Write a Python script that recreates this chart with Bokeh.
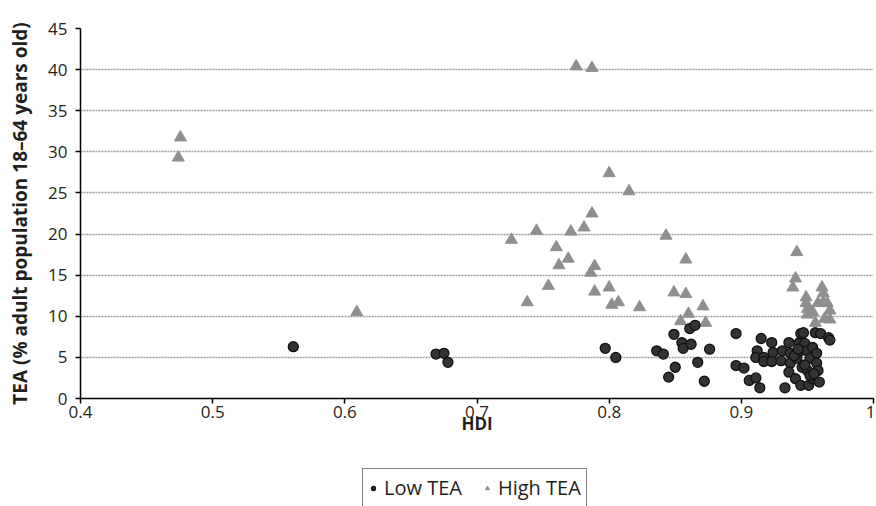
from bokeh.plotting import figure
from bokeh.layouts import column
from bokeh.models import Range1d, FixedTicker, CustomJSTickFormatter, Legend, LegendItem, Label
from bokeh.embed import file_html
from bokeh.resources import INLINE

# High TEA group (HDI, TEA %)
high_hdi = [0.4756, 0.474, 0.609, 0.726, 0.745, 0.738, 0.754, 0.760, 0.762, 0.769,
            0.771, 0.775, 0.781, 0.787, 0.787, 0.786, 0.789, 0.789, 0.800, 0.800,
            0.802, 0.807, 0.815, 0.823, 0.843, 0.849, 0.858, 0.858, 0.860, 0.854,
            0.871, 0.873, 0.942, 0.941, 0.939, 0.949, 0.949, 0.950, 0.950, 0.961,
            0.962, 0.958, 0.962, 0.965, 0.967, 0.967, 0.954, 0.956, 0.963]
high_tea = [31.75, 29.3, 10.5, 19.3, 20.4, 11.7, 13.7, 18.4, 16.2, 17.0,
            20.3, 40.4, 20.8, 22.5, 40.2, 15.3, 16.1, 13.0, 27.4, 13.5,
            11.4, 11.7, 25.2, 11.1, 19.8, 12.9, 16.9, 12.7, 10.3, 9.4,
            11.2, 9.2, 17.8, 14.6, 13.5, 12.3, 11.6, 10.9, 10.2, 13.5,
            12.8, 11.6, 11.7, 11.6, 10.7, 9.6, 10.5, 9.2, 9.7]

# Low TEA group (HDI, TEA %)
low_hdi = [0.561, 0.669, 0.675, 0.678, 0.797, 0.805, 0.836, 0.841, 0.849, 0.845,
           0.850, 0.855, 0.856, 0.861, 0.865, 0.862, 0.867, 0.872, 0.876, 0.896,
           0.896, 0.902, 0.906, 0.911, 0.914, 0.915, 0.912, 0.911, 0.917, 0.917,
           0.923, 0.924, 0.923, 0.931, 0.930, 0.933, 0.936, 0.937, 0.937, 0.936,
           0.941, 0.942, 0.944, 0.945, 0.947, 0.948, 0.945, 0.950, 0.946, 0.950,
           0.945, 0.951, 0.952, 0.954, 0.956, 0.957, 0.957, 0.954, 0.958, 0.960,
           0.966, 0.967, 0.952, 0.940, 0.948, 0.955, 0.943, 0.959]
low_tea = [6.3, 5.4, 5.5, 4.4, 6.1, 5.0, 5.8, 5.4, 7.8, 2.6,
           3.8, 6.8, 6.1, 8.5, 8.9, 6.6, 4.4, 2.1, 6.0, 7.9,
           4.0, 3.7, 2.2, 2.5, 1.3, 7.3, 5.8, 5.0, 5.0, 4.5,
           6.8, 5.6, 4.5, 5.8, 4.6, 1.3, 6.8, 5.5, 4.3, 3.2,
           2.4, 4.9, 6.8, 7.9, 8.0, 6.7, 5.8, 5.8, 3.8, 3.4,
           1.6, 1.6, 4.9, 6.2, 8.0, 5.5, 4.3, 2.4, 3.4, 7.9,
           7.4, 7.1, 2.8, 5.2, 4.1, 3.0, 6.0, 2.0]

x_ticks = [0.4, 0.5, 0.6, 0.7, 0.8, 0.9, 1.0]
y_ticks = [0, 5, 10, 15, 20, 25, 30, 35, 40, 45]

FONT = "Open Sans"
TXT = "#231f20"
HIGH_COLOR = "#8f8f8f"
LOW_FILL = "#333333"
LOW_LINE = "#111111"
TICK_SIZE = "17px"

p = figure(frame_width=793, frame_height=370, output_backend="svg", toolbar_location=None,
           x_range=Range1d(0.4, 1.0), y_range=Range1d(0, 45),
           min_border_left=80, min_border_right=3, min_border_top=28, min_border_bottom=10)
p.outline_line_color = None
p.background_fill_color = "white"
p.border_fill_color = "white"

p.xgrid.grid_line_color = None
p.ygrid.ticker = FixedTicker(ticks=y_ticks)
p.ygrid.grid_line_color = "#9a9a9a"
p.ygrid.grid_line_width = 1.5
p.ygrid.grid_line_dash = "2 1"

p.xaxis.ticker = FixedTicker(ticks=x_ticks)
p.xaxis.formatter = CustomJSTickFormatter(
    code="var v = Math.round(tick*10)/10; return v >= 1 ? '' : v.toString();")
p.yaxis.ticker = FixedTicker(ticks=y_ticks)
for ax in (p.xaxis, p.yaxis):
    ax.axis_line_color = "black"
    ax.axis_line_width = 1.5
    ax.major_tick_line_color = "black"
    ax.major_tick_line_width = 1.5
    ax.major_tick_out = 5
    ax.major_tick_in = 0
    ax.minor_tick_line_color = None
    ax.major_label_text_font = FONT
    ax.major_label_text_font_size = TICK_SIZE
    ax.major_label_text_color = TXT
    ax.axis_label_text_font = FONT
    ax.axis_label_text_font_size = "17px"
    ax.axis_label_text_font_style = "bold"
    ax.axis_label_text_color = TXT
p.yaxis.axis_label_text_font_size = "19px"
p.xaxis.axis_label = "HDI"
p.yaxis.axis_label = "TEA (% adult population 18\u201364 years old)"
p.xaxis.major_label_standoff = 2
p.xaxis.axis_label_standoff = -9
p.yaxis.major_label_standoff = 8
p.yaxis.axis_label_standoff = 12

# last x tick label drawn separately so the frame keeps its full width
p.add_layout(Label(x=x_ticks[-1], y=0, x_units="data", y_units="data", text="1",
                   text_align="right", text_baseline="top", x_offset=2, y_offset=-7,
                   text_font=FONT, text_font_size=TICK_SIZE, text_color=TXT), "below")

r_high = p.scatter(high_hdi, high_tea, marker="triangle", size=12,
                   fill_color=HIGH_COLOR, line_color=HIGH_COLOR)
r_low = p.scatter(low_hdi, low_tea, marker="circle", size=10,
                  fill_color=LOW_FILL, line_color=LOW_LINE, line_width=1.3)

# Legend strip below the chart (its glyphs fall outside its y-range)
q = figure(width=876, height=61, output_backend="svg", toolbar_location=None,
           x_axis_location=None, y_axis_location=None,
           x_range=Range1d(0, 1), y_range=Range1d(100, 101),
           min_border_left=0, min_border_right=0, min_border_top=0, min_border_bottom=0)
q.grid.visible = False
q.outline_line_color = None
lg_low = q.scatter(low_hdi, low_tea, marker="circle", size=10,
                   fill_color=LOW_FILL, line_color=LOW_LINE, line_width=1.3)
lg_high = q.scatter(high_hdi, high_tea, marker="triangle", size=13,
                    fill_color=HIGH_COLOR, line_color=HIGH_COLOR)

legend = Legend(items=[LegendItem(label="Low TEA", renderers=[lg_low]),
                       LegendItem(label="High TEA", renderers=[lg_high])],
                orientation="horizontal", location=(282, 3))
legend.label_text_font = FONT
legend.label_text_font_size = "20px"
legend.label_text_color = TXT
legend.border_line_color = "black"
legend.border_line_width = 1
legend.glyph_width = 10
legend.glyph_height = 20
legend.label_standoff = 6
legend.spacing = 20
legend.padding = 5
legend.margin = 0
q.add_layout(legend, "center")

layout = column(p, q, spacing=0)
open("out.html", "w").write(file_html(layout, INLINE))
